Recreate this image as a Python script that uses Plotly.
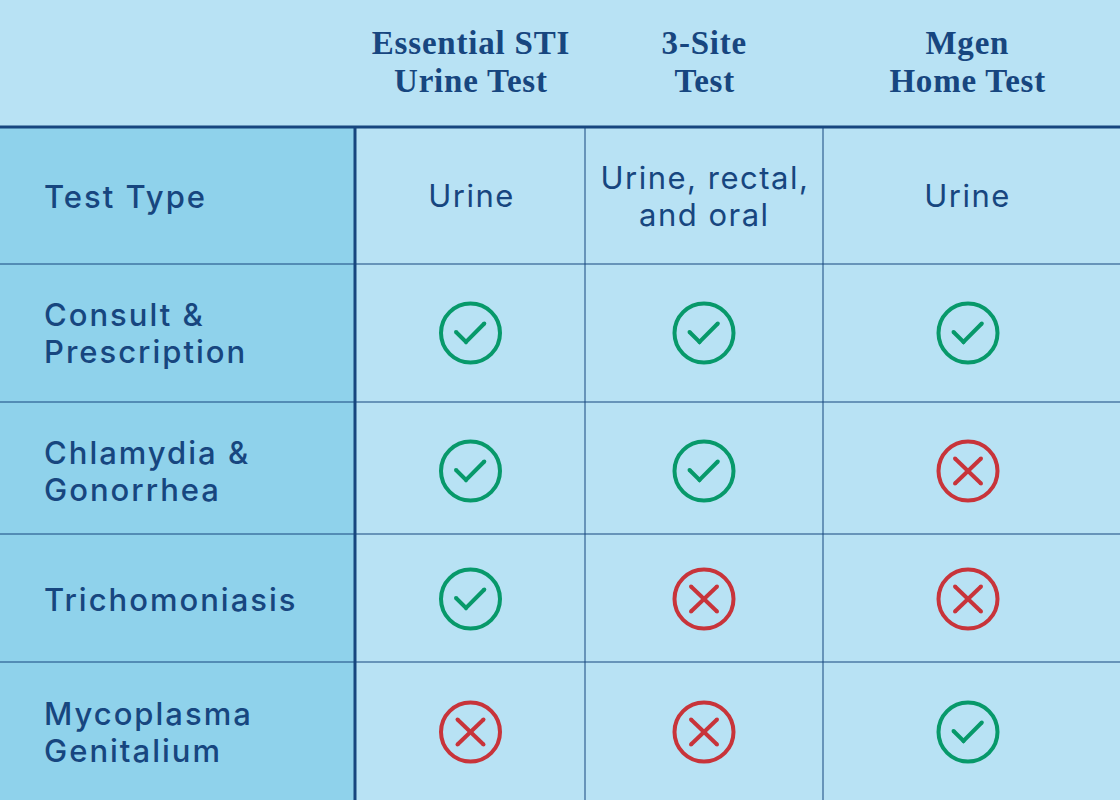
import plotly.graph_objects as go

columns = ["Essential STI<br>Urine Test", "3-Site<br>Test", "Mgen<br>Home Test"]
rows = ["Test Type", "Consult &<br>Prescription", "Chlamydia &<br>Gonorrhea", "Trichomoniasis", "Mycoplasma<br>Genitalium"]
test_types = ["Urine", "Urine, rectal,<br>and oral", "Urine"]
consult = [1, 1, 1]
chlamydia = [1, 1, 0]
trichomoniasis = [1, 0, 0]
mycoplasma = [0, 0, 1]

# layout geometry (pixel-scaled axes)
X_THICK = 355
Y_THICK = 127
X_GRID = [585, 823]
Y_GRID = [264, 402, 534, 662]
X_CENTERS = [470.5, 704, 968]
X_TEXT = [471, 704.5, 967]
Y_MARKS = [333, 471, 599, 732]
Y_LABELS = [196, 333, 471, 599, 732]

LIGHT = "#B8E2F4"
DARK = "#8FD2EB"
NAVY = "#17467F"
GREEN = "#07996A"
RED = "#C8343A"
SERIF = "Liberation Serif"
SANS = "Inter"
STROKE = 4

fig = go.Figure()
shapes = [
    dict(type="rect", x0=0, x1=X_THICK, y0=Y_THICK, y1=800, fillcolor=DARK, line_width=0, layer="below"),
]
for y in Y_GRID:
    shapes.append(dict(type="line", x0=0, x1=1120, y0=y, y1=y, line=dict(color=NAVY, width=1)))
for x in X_GRID:
    shapes.append(dict(type="line", x0=x, x1=x, y0=Y_THICK, y1=800, line=dict(color=NAVY, width=1)))
shapes.append(dict(type="line", x0=0, x1=1120, y0=Y_THICK, y1=Y_THICK, line=dict(color=NAVY, width=3)))
shapes.append(dict(type="line", x0=X_THICK, x1=X_THICK, y0=Y_THICK, y1=800, line=dict(color=NAVY, width=3)))


def stroke(px, py, color):
    fig.add_trace(go.Scatter(x=px, y=py, mode="lines+markers", showlegend=False, hoverinfo="skip",
                             line=dict(color=color, width=STROKE),
                             marker=dict(symbol="circle", size=STROKE, color=color)))


matrix = [consult, chlamydia, trichomoniasis, mycoplasma]
for r, row in enumerate(matrix):
    for c, ok in enumerate(row):
        cx, cy = X_CENTERS[c], Y_MARKS[r]
        color = GREEN if ok else RED
        fig.add_trace(go.Scatter(
            x=[cx], y=[cy], mode="markers", showlegend=False, hoverinfo="skip",
            marker=dict(symbol="circle-open", size=59, color=color, line=dict(color=color, width=STROKE)),
        ))
        if ok:
            stroke([cx - 14.5, cx - 4.5, cx + 13.8], [cy - 1, cy + 9, cy - 9.5], color)
        else:
            stroke([cx - 13, cx + 13], [cy - 12.5, cy + 12.5], color)
            stroke([cx - 13, cx + 13], [cy + 12.5, cy - 12.5], color)

ann = []


def add_text(x, y, text, spacing, **kw):
    lines = text.split("<br>")
    for i, line in enumerate(lines):
        offset = (i - (len(lines) - 1) / 2) * spacing
        ann.append(dict(x=x, y=y + offset, text=line, showarrow=False, yanchor="middle", **kw))


for x, t in zip(X_TEXT, columns):
    add_text(x, 62, t, 38, xanchor="center", align="center",
             font=dict(family=SERIF, size=33, color=NAVY, weight=700))
for x, t in zip(X_TEXT, test_types):
    add_text(x, 195.5, t, 37, xanchor="center", align="center",
             font=dict(family=SANS, size=31, color=NAVY, weight=400))
for y, t in zip(Y_LABELS, rows):
    add_text(42, y, t, 37, xanchor="left", align="left",
             font=dict(family=SANS, size=31, color=NAVY, weight=500))

fig.update_layout(
    width=1120, height=800, margin=dict(l=0, r=0, t=0, b=0),
    paper_bgcolor=LIGHT, plot_bgcolor=LIGHT, shapes=shapes, annotations=ann, showlegend=False,
    xaxis=dict(range=[0, 1120], visible=False, fixedrange=True),
    yaxis=dict(range=[800, 0], visible=False, fixedrange=True),
)
post = """
document.body.style.margin = '0';
document.querySelectorAll('.annotation-text').forEach(function (t) {
  var family = t.style.fontFamily || '';
  var weight = t.style.fontWeight || '';
  if (family.indexOf('Serif') >= 0) { t.style.letterSpacing = '0.8px'; }
  else if (String(weight) === '500') { t.style.letterSpacing = '2px'; }
  else { t.style.letterSpacing = '1.5px'; }
});
"""
fig.write_html("out.html", config=dict(displayModeBar=False), post_script=post)
